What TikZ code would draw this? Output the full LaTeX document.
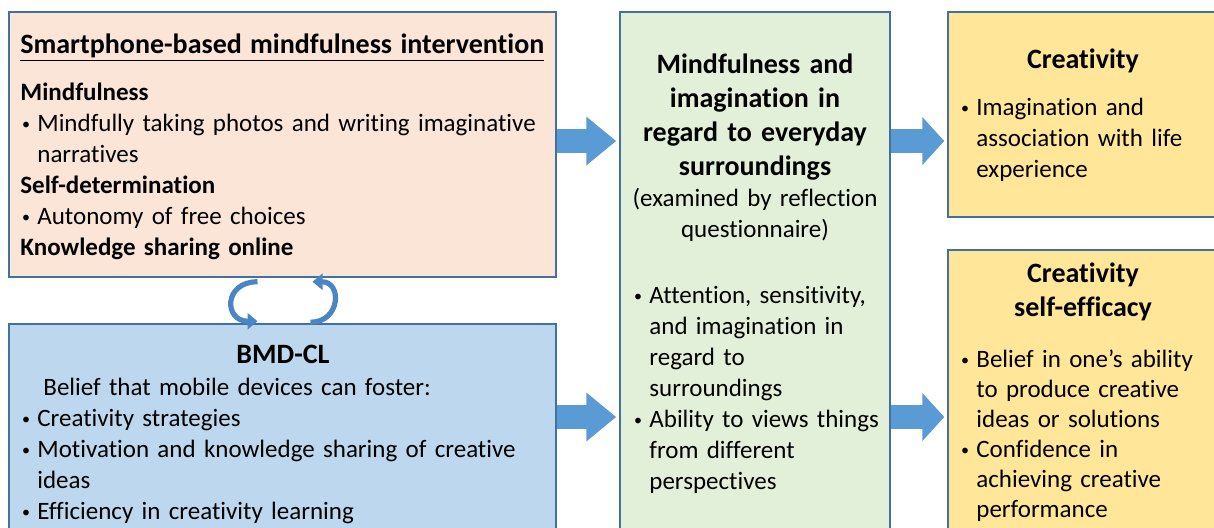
\documentclass[tikz,border=0pt]{standalone}
\usepackage{fontspec}
\setmainfont{Carlito}[Ligatures=NoCommon]
\usepackage{tikz}
\usetikzlibrary{arrows.meta,calc,fit}

\definecolor{peach}{HTML}{FBE5D6}
\definecolor{skyblue}{HTML}{BDD7EE}
\definecolor{palegreen}{HTML}{E2F0D9}
\definecolor{gold}{HTML}{FFE699}
\definecolor{edgeblue}{HTML}{41719C}
\definecolor{arrowblue}{HTML}{5B9BD5}
\definecolor{loopblue}{HTML}{4A86C5}

\newcommand{\bul}{\makebox[8.5pt][l]{\hspace{0.8pt}\raisebox{0.6pt}{\fontsize{8}{8}\selectfont\textbullet}}}
\newcommand{\bulind}{\hspace*{8.5pt}}

\tikzset{
  box/.style={draw=edgeblue, line width=0.75pt, inner sep=0pt},
  body/.style={anchor=base west, align=left, text width=285pt, inner sep=0pt,
    font=\fontsize{12.5}{15.5}\selectfont},
  head/.style={anchor=base, align=center, text width=150pt, inner sep=0pt,
    font=\bfseries\fontsize{14}{17}\selectfont},
  flowarrow/.style={draw=arrowblue, line width=12pt, shorten >=1.5pt,
    -{Triangle[width=23.5pt,length=#1]}},
  flowarrow/.default=15pt,
  cyclearrow/.style={draw=loopblue, line width=2.6pt, -{Triangle[width=8pt,length=5pt]}}
}

\begin{document}
\begin{tikzpicture}[x=0.5pt, y=-0.5pt]
      \useasboundingbox (0,0) rectangle (1214,527);
      \clip (0,0) rectangle (1214,527);
      \node[box, fill=peach, fit={(9,12) (556,277)}] (interv) {};
      \node[box, fill=skyblue, fit={(9,324) (556,560)}] (belief) {};
      \node[box, fill=palegreen, fit={(620,12) (890,560)}] (surround) {};
      \node[box, fill=gold, fit={(948,12) (1230,217)}] (creat) {};
      \node[box, fill=gold, fit={(948,250) (1230,560)}] (efficacy) {};

      \node[body] (interv-text) at (20,53) {{\fontsize{14}{15.5}\selectfont\underline{\textbf{Smartphone-based mindfulness intervention}}}\\[8pt]
        \textbf{Mindfulness}\\
        \bul Mindfully taking photos and writing imaginative\\
        \bulind narratives\\
        \textbf{Self-determination}\\
        \bul Autonomy of free choices\\
        \textbf{Knowledge sharing online}};

      \node[head] (belief-head) at (283,363) {BMD-CL};
      \node[body] (belief-text) at (20,395) {\hspace*{11.5pt}Belief that mobile devices can foster:\\
        \bul Creativity strategies\\
        \bul Motivation and knowledge sharing of creative\\
        \bulind ideas\\
        \bul Efficiency in creativity learning};

      \node[head] (surround-head) at (755,73) {Mindfulness and\\ imagination in\\ regard to everyday\\ surroundings};
      \node[body, anchor=base, align=center, text width=140pt] (surround-note) at (755,206) {(examined by reflection\\ questionnaire)};
      \node[body] (surround-text) at (632,303) {\bul Attention, sensitivity,\\
        \bulind and imagination in\\
        \bulind regard to\\
        \bulind surroundings\\
        \bul Ability to views things\\
        \bulind from different\\
        \bulind perspectives};

      \node[head] (creat-head) at (1083,68) {Creativity};
      \node[body] (creat-text) at (959,115) {\bul Imagination and\\
        \bulind association with life\\
        \bulind experience};

      \node[head] (efficacy-head) at (1083,282) {Creativity\\ self-efficacy};
      \node[body, font=\fontsize{12.5}{15}\selectfont] (efficacy-text) at (959,367) {\bul Belief in one’s ability\\
        \bulind to produce creative\\
        \bulind ideas or solutions\\
        \bul Confidence in\\
        \bulind achieving creative\\
        \bulind performance};

      \coordinate (upper) at (0,141);
      \coordinate (lower) at (0,417);
      \draw[flowarrow] (interv.east |- upper) -- (surround.west |- upper);
      \draw[flowarrow] (belief.east |- lower) -- (surround.west |- lower);
      \draw[flowarrow=11pt] (surround.east |- upper) -- (creat.west |- upper);
      \draw[flowarrow=11pt] (surround.east |- lower) -- (efficacy.west |- lower);

      \draw[cyclearrow] ($(interv.south)+(-25,4)$) .. controls +(-34,0) and +(-34,0) .. ($(belief.north)+(-25,-2)$);
      \draw[cyclearrow] ($(belief.north)+(28,-1)$) .. controls +(30,0) and +(30,0) .. ($(interv.south)+(30,4)$);
\end{tikzpicture}
\end{document}
